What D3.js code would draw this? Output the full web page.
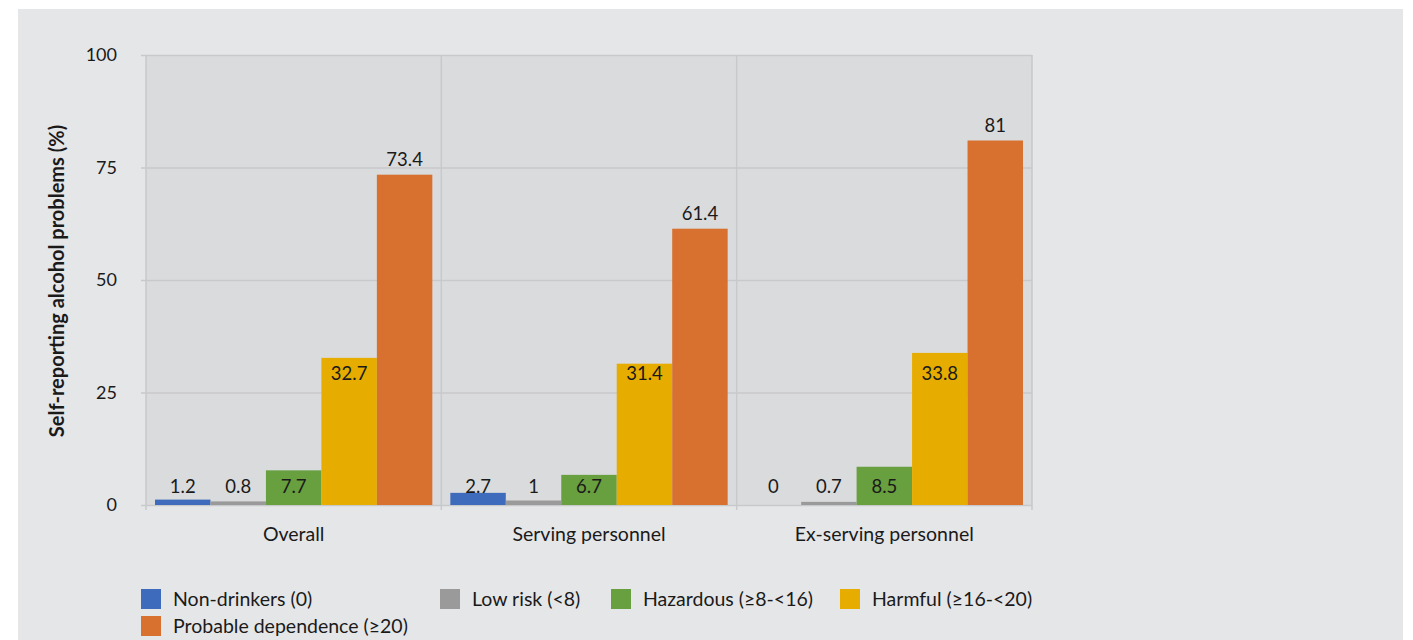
<!DOCTYPE html>
<html>
<head>
<meta charset="utf-8">
<script src="https://cdn.jsdelivr.net/npm/d3@7"></script>
<style>
  html, body { margin: 0; padding: 0; background: #ffffff; }
  svg { display: block; }
  text { font-family: Lato, "Open Sans", sans-serif; fill: #1a1a1a; }
</style>
</head>
<body>
<svg id="chart" width="1413" height="640"></svg>
<script>
// Self-reported alcohol problems by AUDIT score band
const groups = ["Overall", "Serving personnel", "Ex-serving personnel"];
const seriesNames = [
  "Non-drinkers (0)",
  "Low risk (<8)",
  "Hazardous (\u22658-<16)",
  "Harmful (\u226516-<20)",
  "Probable dependence (\u226520)"
];
const nonDrinkers = [1.2, 2.7, 0];
const lowRisk = [0.8, 1, 0.7];
const hazardous = [7.7, 6.7, 8.5];
const harmful = [32.7, 31.4, 33.8];
const dependence = [73.4, 61.4, 81];
const yTicks = [0, 25, 50, 75, 100];
const yTitle = "Self-reporting alcohol problems (%)";

const seriesValues = [nonDrinkers, lowRisk, hazardous, harmful, dependence];
const colors = ["#3f6bbd", "#9a9a9a", "#689f3f", "#e6ad00", "#d8702f"];

const svg = d3.select("#chart");

// grey panel behind the chart
svg.append("rect").attr("x", 18).attr("y", 9).attr("width", 1385).attr("height", 640)
  .attr("fill", "#e5e6e8");

const plot = { left: 146, right: 1032, top: 55, bottom: 505 };

const y = d3.scaleLinear().domain([0, 100]).range([plot.bottom, plot.top]);
const x0 = d3.scaleBand().domain(groups).range([plot.left, plot.right]);
const x1 = d3.scaleBand().domain(d3.range(seriesNames.length))
  .range([9, x0.bandwidth() - 9]);

// plot area
svg.append("rect")
  .attr("x", plot.left).attr("y", plot.top)
  .attr("width", plot.right - plot.left).attr("height", plot.bottom - plot.top)
  .attr("fill", "#dadbdd");

// y tick labels
svg.append("g")
  .attr("transform", `translate(${plot.left},0)`)
  .call(d3.axisLeft(y).tickValues(yTicks).tickSize(0).tickPadding(29).tickFormat(d3.format("d")))
  .call(g => g.select(".domain").remove())
  .call(g => g.selectAll("text").attr("font-size", 18).attr("fill", "#1a1a1a"));

// horizontal gridlines, extended a little left as tick marks
const grid = svg.append("g");
grid.selectAll("line.h").data(yTicks).join("line")
  .attr("class", "h")
  .attr("x1", plot.left - 5).attr("x2", plot.right)
  .attr("y1", d => y(d) + 0.5).attr("y2", d => y(d) + 0.5)
  .attr("stroke", "#c8c9cb").attr("stroke-width", 1.5);

// vertical separators between groups and the left edge
const seps = [plot.left].concat(groups.map(g => x0(g) + x0.bandwidth()));
grid.selectAll("line.v").data(seps).join("line")
  .attr("class", "v")
  .attr("x1", d => d).attr("x2", d => d)
  .attr("y1", plot.top).attr("y2", plot.bottom + 5)
  .attr("stroke", "#c8c9cb").attr("stroke-width", 1.5);

// bars
const gGroups = svg.append("g").selectAll("g").data(groups).join("g")
  .attr("transform", d => `translate(${x0(d)},0)`);

gGroups.selectAll("rect")
  .data((g, gi) => seriesValues.map((vals, si) => ({ si, v: vals[gi] })))
  .join("rect")
  .attr("x", d => x1(d.si))
  .attr("width", x1.bandwidth())
  .attr("y", d => y(d.v))
  .attr("height", d => y(0) - y(d.v))
  .attr("fill", d => colors[d.si]);

// value labels: low bands sit along the baseline, harmful sits at a fixed
// height inside its bar, dependence sits just above its bar
function labelY(d) {
  if (d.si <= 2) return y(0) - 12;
  if (d.si === 3) return y(0) - 125;
  return y(d.v) - 9;
}
gGroups.selectAll("text")
  .data((g, gi) => seriesValues.map((vals, si) => ({ si, v: vals[gi] })))
  .join("text")
  .attr("x", d => x1(d.si) + x1.bandwidth() / 2)
  .attr("y", labelY)
  .attr("text-anchor", "middle")
  .attr("font-size", 18.5)
  .text(d => d.v);

// category labels
svg.append("g").selectAll("text").data(groups).join("text")
  .attr("x", d => x0(d) + x0.bandwidth() / 2)
  .attr("y", 541)
  .attr("text-anchor", "middle")
  .attr("font-size", 19.5)
  .text(d => d);

// y-axis title
svg.append("text")
  .attr("transform", `translate(64,${(plot.top + plot.bottom) / 2 + 1}) rotate(-90)`)
  .attr("text-anchor", "middle")
  .attr("font-size", 20)
  .attr("font-weight", "bold")
  .text(yTitle);

// legend
const legendPos = [[141, 589], [440, 589], [611, 589], [840, 589], [141, 616]];
const lg = svg.append("g").selectAll("g").data(seriesNames).join("g")
  .attr("transform", (d, i) => `translate(${legendPos[i][0]},${legendPos[i][1]})`);
lg.append("rect").attr("width", 20).attr("height", 20).attr("fill", (d, i) => colors[i]);
lg.append("text").attr("x", 32).attr("y", 17).attr("font-size", 19.5).text(d => d);
</script>
</body>
</html>
